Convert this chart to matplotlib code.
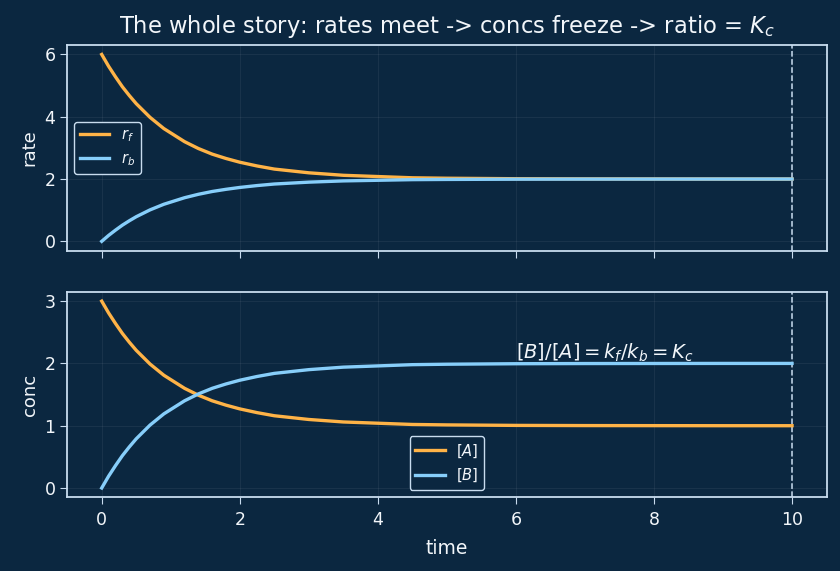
import matplotlib
matplotlib.use("Agg")
import matplotlib.pyplot as plt

# values (kf = 2, kb = 1)
time = [0, 0.1, 0.2, 0.3, 0.4, 0.5, 0.6, 0.7, 0.8, 0.9, 1.0, 1.2, 1.4, 1.6, 1.8, 2.0,
        2.25, 2.5, 2.75, 3.0, 3.5, 4.0, 4.5, 5.0, 6.0, 7.0, 8.0, 9.0, 10.0]
conc_A = [3.0, 2.81, 2.64, 2.48, 2.34, 2.21, 2.10, 1.99, 1.90, 1.81, 1.74, 1.60, 1.49, 1.40, 1.33, 1.27,
          1.21, 1.16, 1.13, 1.10, 1.06, 1.04, 1.02, 1.013, 1.005, 1.002, 1.001, 1.0, 1.0]
conc_B = [0.0, 0.19, 0.36, 0.52, 0.66, 0.79, 0.90, 1.01, 1.10, 1.19, 1.26, 1.40, 1.51, 1.60, 1.67, 1.73,
          1.79, 1.84, 1.87, 1.90, 1.94, 1.96, 1.98, 1.987, 1.995, 1.998, 1.999, 2.0, 2.0]
rate_f = [6.0, 5.62, 5.28, 4.96, 4.68, 4.42, 4.20, 3.98, 3.80, 3.62, 3.48, 3.20, 2.98, 2.80, 2.66, 2.54,
          2.42, 2.32, 2.26, 2.20, 2.12, 2.08, 2.04, 2.026, 2.01, 2.004, 2.002, 2.0, 2.0]
rate_b = [0.0, 0.19, 0.36, 0.52, 0.66, 0.79, 0.90, 1.01, 1.10, 1.19, 1.26, 1.40, 1.51, 1.60, 1.67, 1.73,
          1.79, 1.84, 1.87, 1.90, 1.94, 1.96, 1.98, 1.987, 1.995, 1.998, 1.999, 2.0, 2.0]

bg = '#0b2740'
fg = '#f2f6fa'
edge = '#c8dcef'
orange = '#ffb347'
blue = '#87cefa'

plt.rcParams.update({
    'font.size': 12.5,
    'axes.edgecolor': edge,
    'axes.labelcolor': fg,
    'xtick.color': edge,
    'ytick.color': edge,
    'xtick.labelcolor': fg,
    'ytick.labelcolor': fg,
    'xtick.labelsize': 12.5,
    'ytick.labelsize': 12.5,
    'xtick.major.size': 5,
    'ytick.major.size': 5,
    'xtick.major.pad': 5,
    'text.color': fg,
})

fig, (ax1, ax2) = plt.subplots(2, 1, figsize=(8.4, 5.71), dpi=100, sharex=True)
fig.patch.set_facecolor(bg)
for ax in (ax1, ax2):
    ax.set_facecolor(bg)
    ax.grid(True, color='#ffffff', alpha=0.06, linewidth=0.8)
    for s in ax.spines.values():
        s.set_linewidth(1.3)
    ax.axvline(10, color=edge, linestyle='--', linewidth=1.1)

ax1.plot(time, rate_f, color=orange, linewidth=2.4, label='$r_f$')
ax1.plot(time, rate_b, color=blue, linewidth=2.4, label='$r_b$')
ax1.set_ylabel('rate', fontsize=13)
ax1.set_yticks([0, 2, 4, 6])
ax1.set_title('The whole story: rates meet -> concs freeze -> ratio = $K_c$',
              fontsize=16.3, color=fg, pad=8.5)
ax1.legend(loc='center left', fontsize=10.5, facecolor=bg, edgecolor=edge, framealpha=1)

ax2.plot(time, conc_A, color=orange, linewidth=2.4, label='$[A]$')
ax2.plot(time, conc_B, color=blue, linewidth=2.4, label='$[B]$')
ax2.set_ylabel('conc', fontsize=13)
ax2.set_xlabel('time', fontsize=13.5, labelpad=7)
ax2.set_yticks([0, 1, 2, 3])
ax2.set_xticks([0, 2, 4, 6, 8, 10])
ax2.text(6, 2.07, '$[B]/[A] = k_f/k_b = K_c$', fontsize=14, color=fg)
ax2.legend(loc='lower center', fontsize=10.5, facecolor=bg, edgecolor=edge, framealpha=1)

fig.subplots_adjust(left=0.08, right=0.984, top=0.921, bottom=0.129, hspace=0.2)
fig.savefig('out.png', facecolor=bg)
